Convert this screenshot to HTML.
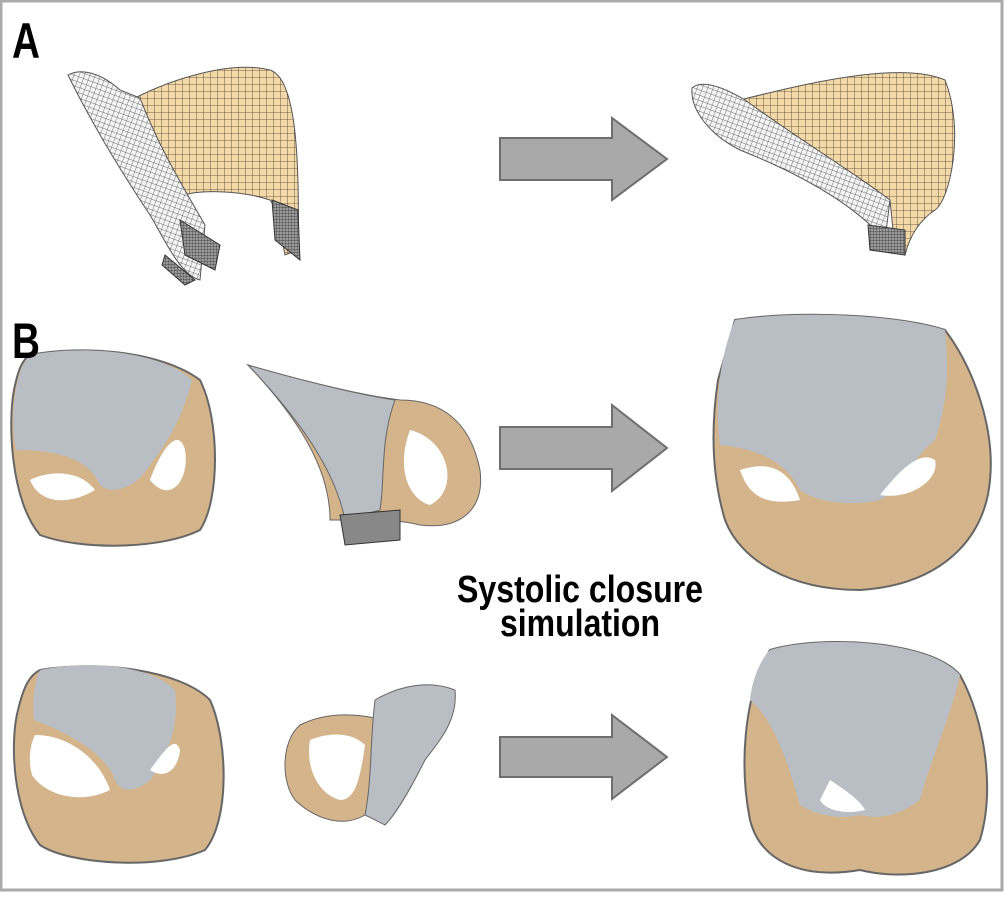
<!DOCTYPE html>
<html><head><meta charset="utf-8"><style>
html,body{margin:0;padding:0;background:#fff}
body{width:1004px;height:892px;overflow:hidden}
text{font-family:"Liberation Sans Narrow","Liberation Sans",sans-serif;font-weight:bold}
</style></head><body>
<svg width="1004" height="892" viewBox="0 0 1004 892" xmlns="http://www.w3.org/2000/svg">
<defs>
<pattern id="gt" width="7" height="7" patternUnits="userSpaceOnUse"><rect width="7" height="7" fill="#f3d9a8"/><path d="M0 0H7M0 0V7" stroke="#4a3a28" stroke-width="0.8"/></pattern>
<pattern id="gw" width="5" height="5" patternUnits="userSpaceOnUse" patternTransform="rotate(20)"><rect width="5" height="5" fill="#f4f4f4"/><path d="M0 0H5M0 0V5" stroke="#444" stroke-width="0.7"/></pattern>
<pattern id="gd" width="3" height="3" patternUnits="userSpaceOnUse"><rect width="3" height="3" fill="#999"/><path d="M0 0H3M0 0V3" stroke="#333" stroke-width="0.7"/></pattern>
</defs>
<rect x="1" y="1" width="1001" height="889" fill="#fff" stroke="#aaa" stroke-width="3"/>

<!-- Panel A left -->
<path d="M135 98 C170 80 230 60 270 70 C295 78 300 150 298 250 L285 255 C280 230 278 210 270 200 C240 190 200 190 185 195 Z" fill="url(#gt)" stroke="#555"/>
<path d="M68 75 C80 68 100 72 120 90 L140 98 C160 150 185 190 205 225 L200 280 C180 275 165 240 150 215 C120 170 90 120 68 75Z" fill="url(#gw)" stroke="#555"/>
<path d="M180 220 L220 245 L215 270 L185 255Z M272 200 L298 210 L300 260 L275 240Z M165 255 L195 280 L185 285 L162 265Z" fill="url(#gd)" stroke="#333"/>
<!-- Panel A right -->
<path d="M740 100 C800 85 900 60 945 80 C965 130 950 200 935 210 C920 220 910 235 905 255 L895 250 L890 200 C850 170 800 140 740 100Z" fill="url(#gt)" stroke="#555"/>
<path d="M692 88 C700 80 720 85 745 100 C800 140 850 170 890 200 L885 240 C850 200 790 170 740 150 C710 135 690 110 692 88Z" fill="url(#gw)" stroke="#555"/>
<path d="M868 225 L905 230 L905 255 L870 250Z" fill="url(#gd)" stroke="#333"/>

<!-- arrows -->
<g fill="#a9a9a9" stroke="#6e6e6e" stroke-width="2">
<path d="M500 138 H612 V118 L667 159 L612 200 V180 H500Z"/>
<path d="M500 427 H612 V405 L667 448 L612 491 V469 H500Z"/>
<path d="M500 737 H612 V715 L667 757 L612 799 V777 H500Z"/>
</g>

<!-- B row1 left -->
<path d="M30 355 C80 345 160 350 200 380 C220 420 220 500 200 530 C160 550 80 550 40 535 C10 500 8 420 14 390 C18 370 22 360 30 355Z" fill="#d4b48a" stroke="#666" stroke-width="2"/>
<path d="M30 355 C80 345 160 350 192 380 C185 410 170 440 150 465 C135 490 110 495 100 485 C90 460 60 450 16 450 C10 420 14 370 30 355Z" fill="#b8bec3"/>
<path d="M30 480 C50 470 80 470 95 490 C70 505 40 505 30 480Z M150 480 C165 440 180 430 185 450 C190 480 170 505 150 480Z" fill="#fff"/>
<!-- B row1 middle -->
<path d="M248 365 C300 380 360 395 400 400 C440 400 470 420 480 470 C485 510 460 530 420 525 C400 520 380 520 370 520 L330 520 C330 470 300 420 248 365Z" fill="#d4b48a" stroke="#666"/>
<path d="M248 365 C300 380 360 395 395 400 C380 440 385 480 380 510 L345 520 C335 470 300 420 248 365Z" fill="#b8bec3" stroke="#666"/>
<path d="M410 430 C450 440 460 490 430 505 C410 500 395 470 410 430Z" fill="#fff"/>
<path d="M340 515 L400 510 L400 540 L345 545Z" fill="#888" stroke="#333"/>
<!-- B row1 right -->
<path d="M735 320 C800 310 900 315 945 330 C975 370 995 430 990 480 C985 540 940 585 860 590 C790 590 740 560 725 520 C710 470 712 420 718 380 Z" fill="#d4b48a" stroke="#666" stroke-width="2"/>
<path d="M735 320 C800 310 900 315 945 330 C950 380 945 410 935 440 C910 460 900 490 880 500 C860 505 820 505 800 490 C790 470 770 450 720 445 C715 410 718 360 735 320Z" fill="#b8bec3"/>
<path d="M740 470 C770 460 790 470 800 500 C770 505 750 500 740 470Z M880 495 C900 470 920 450 935 460 C940 480 910 500 880 495Z" fill="#fff"/>
<!-- B row2 left -->
<path d="M40 670 C100 660 180 670 210 700 C228 740 230 820 205 850 C160 870 70 865 40 845 C12 810 10 740 18 710 C24 685 30 675 40 670Z" fill="#d4b48a" stroke="#666" stroke-width="2"/>
<path d="M40 670 C90 660 150 665 175 690 C180 730 165 760 150 780 C140 790 120 795 115 780 C105 750 60 730 34 720 C32 700 35 680 40 670Z" fill="#b8bec3"/>
<path d="M35 735 C70 735 100 760 110 790 C80 805 45 795 32 775 C28 760 30 745 35 735Z M150 770 C165 750 175 735 180 750 C178 770 165 780 150 770Z" fill="#fff"/>
<!-- B row2 middle -->
<path d="M300 725 C320 715 345 712 375 718 C370 760 370 800 365 815 C340 830 310 815 295 800 C280 780 282 740 300 725Z" fill="#d4b48a" stroke="#666"/>
<path d="M310 740 C335 730 355 735 365 745 C360 780 355 800 340 800 C320 795 305 770 310 740Z" fill="#fff"/>
<path d="M375 700 C400 685 430 680 455 690 C458 720 440 740 425 760 C410 790 395 815 385 825 L365 815 C372 780 370 740 375 700Z" fill="#b8bec3" stroke="#666"/>
<!-- B row2 right -->
<path d="M770 650 C820 635 930 640 960 675 C985 720 995 790 980 840 C960 875 900 880 860 870 C800 880 760 860 750 820 C740 770 742 700 770 650Z" fill="#d4b48a" stroke="#666" stroke-width="2"/>
<path d="M770 650 C820 635 930 640 960 675 C950 720 930 760 920 800 C900 815 880 820 860 815 C840 820 815 815 800 805 C790 770 775 720 750 700 C752 680 760 660 770 650Z" fill="#b8bec3"/>
<path d="M830 780 C845 790 860 800 865 810 C845 815 825 810 820 800Z" fill="#fff"/>

<text x="12" y="58" font-size="50" textLength="28" lengthAdjust="spacingAndGlyphs">A</text>
<text x="12" y="358" font-size="50" textLength="28" lengthAdjust="spacingAndGlyphs">B</text>
<text x="457" y="602" font-size="38" textLength="246" lengthAdjust="spacingAndGlyphs">Systolic closure</text>
<text x="500" y="636" font-size="38" textLength="160" lengthAdjust="spacingAndGlyphs">simulation</text>
</svg>
</body></html>
